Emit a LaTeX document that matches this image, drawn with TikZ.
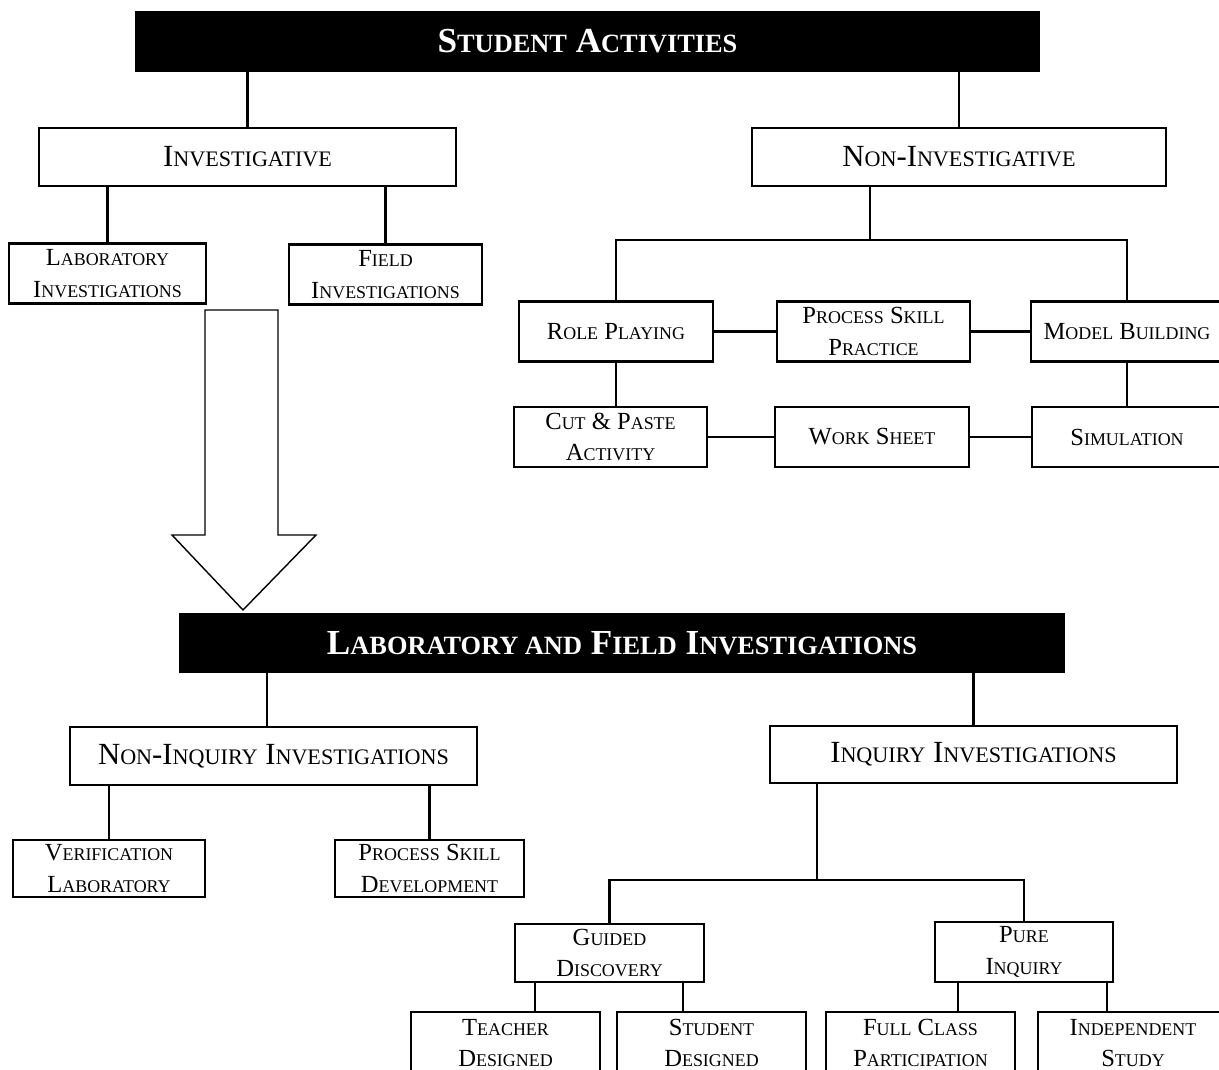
\documentclass[tikz,border=0pt]{standalone}
\usepackage{fontspec}
\setmainfont{Liberation Serif}
\newcommand{\smc}[1]{{\fontsize{\smsz}{\smsz}\selectfont #1}}

\begin{document}
\begin{tikzpicture}
    \useasboundingbox (0,0) rectangle (24.38,-21.4);
    \clip (0,0) rectangle (24.38,-21.4);

    \coordinate (nibar) at (17.4,-4.8);
    \coordinate (nqdrop) at (5.34,-14);
    \coordinate (iqbar) at (16.34,-17.6);
    \coordinate (g1) at (10.7,-20);
    \coordinate (g2) at (13.66,-20);
    \coordinate (p1) at (19.16,-20);
    \coordinate (p2) at (22.14,-20);

    \tikzstyle{every node}=[rectangle, fill=black, text=white, inner sep=0pt, minimum height=1.22cm, font={\bfseries\fontsize{20}{24}\selectfont\def\smsz{15}}]
    \node[minimum width=18.1cm] (sa) at (11.75,-0.83) {S\smc{TUDENT} A\smc{CTIVITIES}};
    \node[minimum width=17.72cm, minimum height=1.2cm] (lf) at (12.44,-12.86) {L\smc{ABORATORY AND} F\smc{IELD} I\smc{NVESTIGATIONS}};

    \tikzstyle{every node}=[rectangle, draw=black, fill=white, text=black, line width=1.6pt, inner sep=0pt, minimum height=1.16cm, font={\fontsize{17.5}{21}\selectfont\def\smsz{12.6}}]
    \node[minimum width=8.34cm] (inv) at (4.95,-3.14) {I\smc{NVESTIGATIVE}};
    \node[minimum width=8.28cm] (noninv) at (19.18,-3.14) {N\smc{ON}-I\smc{NVESTIGATIVE}};
    \node[minimum width=8.14cm] (noninq) at (5.47,-15.12) {N\smc{ON}-I\smc{NQUIRY} I\smc{NVESTIGATIONS}};
    \node[minimum width=8.14cm, minimum height=1.14cm] (inq) at (19.47,-15.09) {I\smc{NQUIRY} I\smc{NVESTIGATIONS}};

    \tikzstyle{every node}=[rectangle, draw=black, fill=white, text=black, line width=1.6pt, inner sep=0pt, align=center, minimum height=1.2cm, font={\fontsize{14}{18}\selectfont\def\smsz{10.2}}]
    \node[minimum width=3.94cm] (lab) at (2.15,-5.47) {L\smc{ABORATORY}\\I\smc{NVESTIGATIONS}};
    \node[minimum width=3.86cm] (field) at (7.71,-5.49) {F\smc{IELD}\\I\smc{NVESTIGATIONS}};
    \node[minimum width=3.88cm] (role) at (12.32,-6.63) {R\smc{OLE} P\smc{LAYING}};
    \node[minimum width=3.86cm] (psp) at (17.47,-6.63) {P\smc{ROCESS} S\smc{KILL}\\P\smc{RACTICE}};
    \node[minimum width=3.84cm] (model) at (22.54,-6.63) {M\smc{ODEL} B\smc{UILDING}};
    \node[minimum width=3.86cm] (cut) at (12.21,-8.74) {C\smc{UT} \& P\smc{ASTE}\\A\smc{CTIVITY}};
    \node[minimum width=3.88cm] (work) at (17.44,-8.74) {W\smc{ORK} S\smc{HEET}};
    \node[minimum width=3.8cm] (sim) at (22.54,-8.74) {S\smc{IMULATION}};
    \node[minimum width=3.84cm, minimum height=1.14cm] (verif) at (2.18,-17.37) {V\smc{ERIFICATION}\\L\smc{ABORATORY}};
    \node[minimum width=3.78cm, minimum height=1.14cm] (psd) at (8.59,-17.37) {P\smc{ROCESS} S\smc{KILL}\\D\smc{EVELOPMENT}};
    \node[minimum width=3.78cm, minimum height=1.16cm] (guided) at (12.19,-19.06) {G\smc{UIDED}\\D\smc{ISCOVERY}};
    \node[minimum width=3.56cm] (pure) at (20.48,-19.04) {P\smc{URE}\\I\smc{NQUIRY}};
    \node[minimum width=3.78cm, minimum height=1.24cm] (teacher) at (10.11,-20.86) {T\smc{EACHER}\\D\smc{ESIGNED}};
    \node[minimum width=3.78cm, minimum height=1.24cm] (student) at (14.23,-20.86) {S\smc{TUDENT}\\D\smc{ESIGNED}};
    \node[minimum width=3.78cm, minimum height=1.24cm] (full) at (18.41,-20.86) {F\smc{ULL} C\smc{LASS}\\P\smc{ARTICIPATION}};
    \node[minimum width=3.8cm, minimum height=1.24cm] (indep) at (22.66,-20.86) {I\smc{NDEPENDENT}\\S\smc{TUDY}};

    \tikzstyle{edge}=[black, line width=1.3pt]
    \draw[edge] (sa.south -| inv.north) -- (inv.north);
    \draw[edge] (sa.south -| noninv.north) -- (noninv.north);
    \draw[edge] (inv.south -| lab.north) -- (lab.north);
    \draw[edge] (inv.south -| field.north) -- (field.north);
    \draw[edge] (noninv.south -| nibar) -- (nibar);
    \draw[edge] (role.north) |- (nibar) -| (model.north);
    \draw[edge] (role.south) -- (role.south |- cut.north);
    \draw[edge] (model.south) -- (model.south |- sim.north);

    \draw[edge] (lf.south -| nqdrop) -- (noninq.north -| nqdrop);
    \draw[edge] (lf.south -| inq.north) -- (inq.north);
    \draw[edge] (noninq.south -| verif.north) -- (verif.north);
    \draw[edge] (noninq.south -| psd.north) -- (psd.north);
    \draw[edge] (inq.south -| iqbar) -- (iqbar);
    \draw[edge] (guided.north) |- (iqbar) -| (pure.north);
    \draw[edge] (guided.south -| g1) -- (teacher.north -| g1);
    \draw[edge] (guided.south -| g2) -- (student.north -| g2);
    \draw[edge] (pure.south -| p1) -- (full.north -| p1);
    \draw[edge] (pure.south -| p2) -- (indep.north -| p2);

    \tikzstyle{edge}=[black, line width=1.7pt]
    \draw[edge] (role) -- (psp) -- (model);
    \draw[edge] (cut) -- (work) -- (sim);

    \draw[line width=0.8pt, line join=miter] (4.1,-6.2) -- (5.56,-6.2) -- (5.56,-10.7) -- (6.32,-10.7) -- (4.86,-12.2) -- (3.44,-10.7) -- (4.1,-10.7) -- cycle;
\end{tikzpicture}
\end{document}
